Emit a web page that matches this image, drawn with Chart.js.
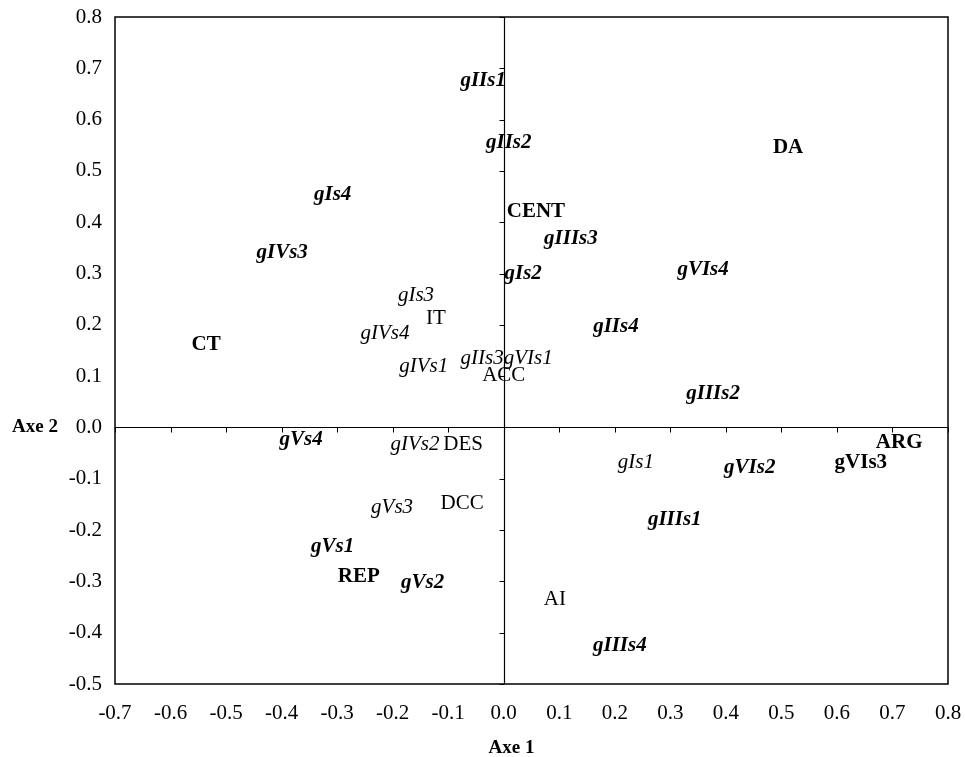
<!DOCTYPE html>
<html>
<head>
<meta charset="utf-8">
<script src="https://cdn.jsdelivr.net/npm/chart.js@4/dist/chart.umd.min.js"></script>
<style>
  html, body { margin: 0; padding: 0; background: #ffffff; }
  canvas { display: block; }
</style>
</head>
<body>
<canvas id="c" width="965" height="757"></canvas>
<script>
// ---- Data (Axe 1 = x, Axe 2 = y) ----
const boldItalicLabels = ['gIIs1','gIIs2','gIs4','gIIIs3','gIs2','gIVs3','gVIs4','gVs4','gIIs4','gIIIs2','gVIs2','gIIIs1','gIIIs4','gVs1','gVs2'];
const boldItalicX      = [-0.037, 0.009, -0.308, 0.121, 0.035, -0.399, 0.359, -0.365, 0.202, 0.377, 0.443, 0.308, 0.209, -0.308, -0.146];
const boldItalicY      = [0.677, 0.555, 0.453, 0.369, 0.299, 0.340, 0.307, -0.024, 0.196, 0.067, -0.079, -0.180, -0.426, -0.233, -0.303];

const boldLabels = ['CENT','DA','CT','ARG','gVIs3','REP'];
const boldX      = [0.058, 0.512, -0.536, 0.712, 0.643, -0.261];
const boldY      = [0.420, 0.545, 0.161, -0.030, -0.069, -0.291];

const italicLabels = ['gIs3','gIVs4','gIVs1','gIIs3','gVIs1','gIVs2','gVs3','gIs1'];
const italicX      = [-0.158, -0.214, -0.144, -0.039, 0.044, -0.160, -0.201, 0.238];
const italicY      = [0.258, 0.184, 0.118, 0.134, 0.135, -0.034, -0.155, -0.069];

const regularLabels = ['IT','ACC','DES','DCC','AI'];
const regularX      = [-0.122, 0.000, -0.073, -0.075, 0.092];
const regularY      = [0.213, 0.102, -0.034, -0.149, -0.336];

const xMin = -0.7, xMax = 0.8, yMin = -0.5, yMax = 0.8, tickStep = 0.1;
const axisTitleX = 'Axe 1';
const axisTitleY = 'Axe 2';

// ---- build datasets ----
function pts(xs, ys) { return xs.map((x, i) => ({ x: x, y: ys[i] })); }
const FONT = '"Liberation Serif", "Times New Roman", serif';
const groups = [
  { labels: boldItalicLabels, data: pts(boldItalicX, boldItalicY), font: 'italic bold 21px ' + FONT },
  { labels: boldLabels,       data: pts(boldX, boldY),             font: 'bold 21px ' + FONT },
  { labels: italicLabels,     data: pts(italicX, italicY),         font: 'italic 21px ' + FONT },
  { labels: regularLabels,    data: pts(regularX, regularY),       font: '21px ' + FONT }
];

function zeroPad(s) { s.paddingTop = 0; s.paddingBottom = 0; s.paddingLeft = 0; s.paddingRight = 0; }

const labelPlugin = {
  id: 'labelPlugin',
  beforeDatasetsDraw(chart) {
    const ctx = chart.ctx, a = chart.chartArea;
    const xs = chart.scales.x, ys = chart.scales.y;
    ctx.save();
    ctx.strokeStyle = '#000';
    ctx.lineWidth = 1.5;
    ctx.strokeRect(a.left, a.top, a.right - a.left, a.bottom - a.top);
    const x0 = Math.round(xs.getPixelForValue(0)) + 0.5;
    const y0 = Math.round(ys.getPixelForValue(0)) + 0.5;
    ctx.lineWidth = 1.2;
    ctx.beginPath();
    ctx.moveTo(x0, a.top); ctx.lineTo(x0, a.bottom);
    ctx.moveTo(a.left, y0); ctx.lineTo(a.right, y0);
    ctx.stroke();
    ctx.lineWidth = 1;
    ctx.beginPath();
    ys.ticks.forEach(t => {
      const p = Math.round(ys.getPixelForValue(t.value)) + 0.5;
      ctx.moveTo(x0 - 5, p); ctx.lineTo(x0, p);
    });
    xs.ticks.forEach(t => {
      const p = Math.round(xs.getPixelForValue(t.value)) + 0.5;
      ctx.moveTo(p, y0); ctx.lineTo(p, y0 + 5);
    });
    ctx.stroke();
    // axis titles
    ctx.fillStyle = '#000';
    ctx.font = 'bold 19px ' + FONT;
    ctx.textAlign = 'center';
    ctx.textBaseline = 'middle';
    ctx.fillText(axisTitleX, x0 + 7, a.bottom + 64);
    ctx.textAlign = 'left';
    ctx.fillText(axisTitleY, 12, y0);
    ctx.restore();
  },
  afterDatasetsDraw(chart) {
    const ctx = chart.ctx;
    ctx.save();
    ctx.fillStyle = '#000';
    ctx.textAlign = 'center';
    ctx.textBaseline = 'middle';
    chart.data.datasets.forEach((ds, di) => {
      const meta = chart.getDatasetMeta(di);
      ctx.font = ds.labelFont;
      meta.data.forEach((el, i) => {
        ctx.fillText(ds.pointLabels[i], el.x, el.y);
      });
    });
    ctx.restore();
  }
};

new Chart(document.getElementById('c'), {
  type: 'scatter',
  data: {
    datasets: groups.map(g => ({
      data: g.data,
      pointLabels: g.labels,
      labelFont: g.font,
      pointRadius: 0,
      pointHoverRadius: 0,
      showLine: false
    }))
  },
  options: {
    responsive: false,
    animation: false,
    events: [],
    layout: { padding: { top: 17, right: 17, left: 0, bottom: 0 } },
    plugins: { legend: { display: false }, tooltip: { enabled: false } },
    scales: {
      x: {
        type: 'linear', min: xMin, max: xMax,
        grid: { display: false, drawTicks: false },
        border: { display: false },
        ticks: {
          stepSize: tickStep, autoSkip: false, maxRotation: 0, padding: 17,
          color: '#000', font: { family: FONT, size: 21 },
          callback: v => (Math.abs(v) < 1e-9 ? 0 : v).toFixed(1)
        },
        afterFit: s => { s.height = 757 - 684; zeroPad(s); }
      },
      y: {
        type: 'linear', min: yMin, max: yMax,
        grid: { display: false, drawTicks: false },
        border: { display: false },
        ticks: {
          stepSize: tickStep, autoSkip: false, padding: 13,
          color: '#000', font: { family: FONT, size: 21 },
          callback: v => (Math.abs(v) < 1e-9 ? 0 : v).toFixed(1)
        },
        afterFit: s => { s.width = 115; zeroPad(s); }
      }
    }
  },
  plugins: [labelPlugin]
});
</script>
</body>
</html>
